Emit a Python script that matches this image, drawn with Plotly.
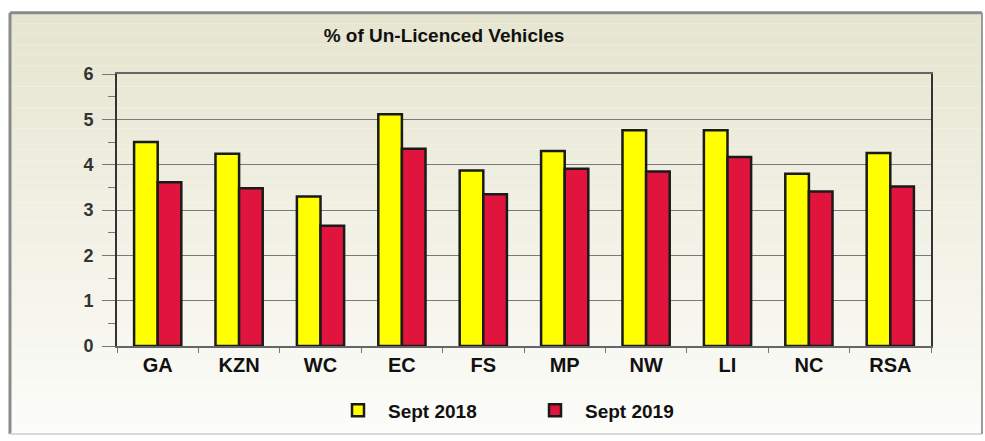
import plotly.graph_objects as go

categories = ["GA", "KZN", "WC", "EC", "FS", "MP", "NW", "LI", "NC", "RSA"]
sept_2018 = [4.50, 4.24, 3.30, 5.11, 3.87, 4.30, 4.76, 4.76, 3.80, 4.26]
sept_2019 = [3.61, 3.48, 2.65, 4.35, 3.35, 3.91, 3.85, 4.17, 3.41, 3.52]
series_names = ["Sept 2018", "Sept 2019"]
y_ticks = [0, 1, 2, 3, 4, 5, 6]

W, H = 985, 441
L, R, T, B = 117, 54, 74, 92
PW, PH = W - L - R, H - T - B

def px_x(p):
    return (p - L) / PW

def px_y(p):
    return (H - B - p) / PH

FONT = "Arial, Liberation Sans, sans-serif"

fig = go.Figure()
fig.add_trace(go.Bar(
    x=categories, y=sept_2018, name=series_names[0],
    marker=dict(color="#ffff00", line=dict(color="#1a1a1a", width=2.5)),
))
fig.add_trace(go.Bar(
    x=categories, y=sept_2019, name=series_names[1],
    marker=dict(color="#e0143c", line=dict(color="#1a1a1a", width=2.5)),
))

shapes = []
# gradient background bands
top_c = (230, 229, 208)
bot_c = (252, 252, 249)
y0p, y1p = 12, 438
n = 40
for i in range(n):
    t = i / (n - 1)
    c = tuple(round(top_c[k] + (bot_c[k] - top_c[k]) * t) for k in range(3))
    ya = y0p + (y1p - y0p) * i / n
    yb = y0p + (y1p - y0p) * (i + 1) / n
    shapes.append(dict(type="rect", xref="paper", yref="paper", layer="below",
                       x0=px_x(10), x1=px_x(982), y0=px_y(yb), y1=px_y(ya),
                       line=dict(width=0), fillcolor="rgb(%d,%d,%d)" % c))
# frame
shapes.append(dict(type="line", xref="paper", yref="paper", x0=px_x(10), x1=px_x(10),
                   y0=px_y(12), y1=px_y(438), line=dict(color="#8a8a8a", width=3)))
shapes.append(dict(type="line", xref="paper", yref="paper", x0=px_x(10), x1=px_x(982),
                   y0=px_y(12), y1=px_y(12), line=dict(color="#8a8a8a", width=3)))
shapes.append(dict(type="line", xref="paper", yref="paper", x0=px_x(10), x1=px_x(982),
                   y0=px_y(438), y1=px_y(438), line=dict(color="#d8d8d8", width=2)))
shapes.append(dict(type="line", xref="paper", yref="paper", x0=px_x(982), x1=px_x(982),
                   y0=px_y(12), y1=px_y(438), line=dict(color="#9a9a9a", width=2)))

fig.update_layout(
    width=W, height=H,
    margin=dict(l=L, r=R, t=T, b=B, pad=0),
    paper_bgcolor="white",
    plot_bgcolor="rgba(0,0,0,0)",
    barmode="group", bargap=0.42, bargroupgap=0.0,
    shapes=shapes,
    title=dict(text="% of Un-Licenced Vehicles", x=444 / W, xanchor="center",
               y=1 - 35 / H, yanchor="middle", xref="container", yref="container",
               font=dict(family=FONT, size=19, color="#111", weight="bold")),
    font=dict(family=FONT),
    legend=dict(orientation="h", x=px_x(328), xanchor="left", y=px_y(414), yanchor="middle",
                font=dict(family=FONT, size=19, color="#111", weight="bold"),
                entrywidth=132, entrywidthmode="pixels", itemwidth=50,
                bgcolor="rgba(0,0,0,0)", traceorder="normal"),
    showlegend=True,
)

fig.update_yaxes(
    range=[0, 6], tickvals=y_ticks, ticktext=[str(v) for v in y_ticks],
    showgrid=True, gridcolor="#7a7a7a", gridwidth=1,
    showline=True, linecolor="#333", linewidth=2, mirror=True,
    ticks="outside", ticklen=13, tickcolor="#777", tickwidth=1,
    minor=dict(dtick=0.5, ticks="outside", ticklen=7, tickcolor="#777", showgrid=False),
    tickfont=dict(family=FONT, size=18, color="#333", weight="bold"),
    ticklabelstandoff=5,
    zeroline=False, fixedrange=True,
)
fig.update_xaxes(
    showline=True, linecolor="#666", linewidth=1.5, mirror=True,
    ticks="outside", tickson="boundaries", ticklen=5, tickcolor="#777",
    tickfont=dict(family=FONT, size=20, color="#111", weight="bold"),
    showgrid=False,
)

fig.write_html("out.html", config={"displayModeBar": False},
               post_script="document.body.style.margin='0';")
